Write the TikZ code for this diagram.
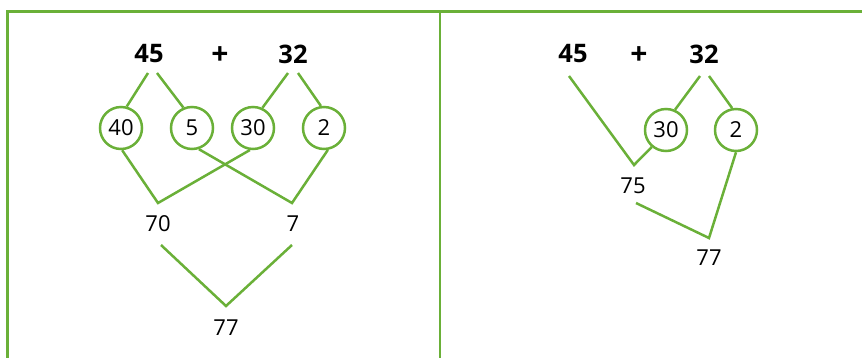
\documentclass[tikz,border=0pt]{standalone}
\usepackage{fontspec}
\setmainfont{Open Sans}
\definecolor{leaf}{RGB}{106,176,56}
\tikzset{
  ln/.style={draw=leaf, line width=2.5pt},
  num/.style={inner sep=0pt, font=\fontsize{22}{24}\selectfont},
  big/.style={inner sep=0pt, font=\fontsize{25.5}{28}\selectfont\bfseries},
  plus/.style={inner sep=0pt, font=\fontsize{30}{32}\selectfont\bfseries},
  part/.style={circle, draw=leaf, line width=2.5pt, minimum size=42pt, inner sep=0pt, font=\fontsize{22}{24}\selectfont},
}
\begin{document}
\begin{tikzpicture}[x=1pt,y=-1pt]
\useasboundingbox (0,0) rectangle (862,357);
% frame
\coordinate (fa) at (7.5,358);
\coordinate (fb) at (7.5,11.5);
\coordinate (fc) at (862,11.5);
\coordinate (fd) at (440,11.5);
\coordinate (fe) at (440,358);
\draw[ln] (fa) -- (fb) -- (fc);
\draw[ln] (fd) -- (fe);

% left panel
\node[big] (a45) at (149,54) {45};
\node[plus] (ap) at (220,56) {+};
\node[big] (a32) at (293,54) {32};
\node[part] (c40) at (121,128) {40};
\node[part] (c5) at (192,128) {5};
\node[part] (c30) at (253,128) {30};
\node[part] (c2) at (324,128) {2};
\node[num] (n70) at (158,224) {70};
\node[num] (n7) at (293,224) {7};
\node[num] (n77) at (226,328) {77};
\coordinate (a45l) at (148,73);
\coordinate (a45r) at (157,73);
\coordinate (a32l) at (288,73);
\coordinate (a32r) at (298,73);
\coordinate (v70) at (158,203);
\coordinate (v7) at (292,203);
\coordinate (v77) at (226,306);
\coordinate (t70) at (161,245);
\coordinate (t7) at (292,245);
\draw[ln] (a45l) -- (c40.75);
\draw[ln] (a45r) -- (c5.113);
\draw[ln] (a32l) -- (c30.65);
\draw[ln] (a32r) -- (c2.98);
\draw[ln] (c40.-87) -- (v70) -- (c30.-98);
\draw[ln] (c5.-72) -- (v7) -- (c2.-80);
\draw[ln] (t70) -- (v77) -- (t7);

% right panel
\node[big] (b45) at (573,54) {45};
\node[plus] (bp) at (639,56) {+};
\node[big] (b32) at (704,54) {32};
\node[part] (d30) at (666,130) {30};
\node[part] (d2) at (736,130) {2};
\node[num] (m75) at (633,186) {75};
\node[num] (m77) at (709,258) {77};
\coordinate (b45l) at (569,76);
\coordinate (b32l) at (700,76);
\coordinate (b32r) at (709,76);
\coordinate (v75) at (634,165);
\coordinate (t75) at (636,203);
\coordinate (w77) at (709,238);
\draw[ln] (b32l) -- (d30.66);
\draw[ln] (b32r) -- (d2.100);
\draw[ln] (b45l) -- (v75) -- (d30.-130);
\draw[ln] (t75) -- (w77) -- (d2.-90);
\end{tikzpicture}
\end{document}
